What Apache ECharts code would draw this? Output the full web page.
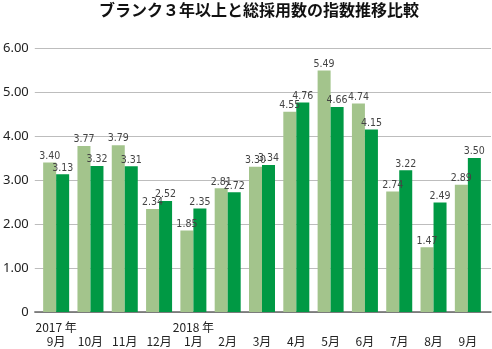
<!DOCTYPE html>
<html><head><meta charset="utf-8">
<script src="https://cdn.jsdelivr.net/npm/echarts@6/dist/echarts.min.js"></script>
<style>html,body{margin:0;padding:0;background:#fff}#c{width:492px;height:349px}</style>
</head><body><div id="c"></div>
<script>
const title = 'ブランク３年以上と総採用数の指数推移比較';
const categories = ['2017 年\n9月','\n10月','\n11月','\n12月','2018 年\n1月','\n2月','\n3月','\n4月','\n5月','\n6月','\n7月','\n8月','\n9月'];
const blankIndex = [3.40,3.77,3.79,2.34,1.85,2.81,3.30,4.55,5.49,4.74,2.74,1.47,2.89];
const totalIndex = [3.13,3.32,3.31,2.52,2.35,2.72,3.34,4.76,4.66,4.15,3.22,2.49,3.50];
const yTicks = [0,1,2,3,4,5,6];

const chart = echarts.init(document.getElementById('c'), null, {renderer:'canvas'});
const lbl = {show:true, position:'top', distance:1, fontSize:10.5, color:'#444',
  fontFamily:"'DejaVu Sans Condensed', 'Liberation Sans', sans-serif", formatter: p => p.value.toFixed(2)};
chart.setOption({
  animation:false,
  backgroundColor:'#fff',
  title:{text:title, left:94, top:-3, textStyle:{fontSize:16, fontWeight:'bold', color:'#111', fontFamily:'Noto Sans CJK JP'}},
  grid:[
    {left:32, right:1, top:48, bottom:37, containLabel:false},
    {left:39, right:7, top:48, bottom:37, containLabel:false}
  ],
  xAxis:[
    {gridIndex:0, type:'value', min:0, max:1, show:true, axisLabel:{show:false}, axisTick:{show:false}, splitLine:{show:false},
     axisLine:{show:true, onZero:false, lineStyle:{color:'#666', width:1.5}}},
    {gridIndex:1, type:'category', data:categories, axisLine:{show:false}, axisTick:{show:false},
     axisLabel:{interval:0, fontSize:12, lineHeight:14.5, color:'#222', margin:8, fontFamily:'Noto Sans CJK JP', formatter: v => v}}
  ],
  yAxis:[
    {gridIndex:0, type:'value', min:yTicks[0], max:yTicks[yTicks.length-1], interval:1,
     axisLine:{show:false}, axisTick:{show:false},
     axisLabel:{margin:6, fontSize:13, color:'#222', fontFamily:'Noto Sans', formatter: v => v===0 ? '0' : v.toFixed(2)},
     splitLine:{show:true, lineStyle:{color:'#bdbdbd', width:1}}},
    {gridIndex:1, type:'value', min:yTicks[0], max:yTicks[yTicks.length-1], interval:1, show:false, splitLine:{show:false}}
  ],
  series:[
    {type:'bar', xAxisIndex:1, yAxisIndex:1, data:blankIndex, barWidth:13, barGap:'0%',
     itemStyle:{color:'#a3c48c'}, label:lbl},
    {type:'bar', xAxisIndex:1, yAxisIndex:1, data:totalIndex, barWidth:13, barGap:'0%',
     itemStyle:{color:'#009944'}, label:lbl}
  ]
});
</script></body></html>
